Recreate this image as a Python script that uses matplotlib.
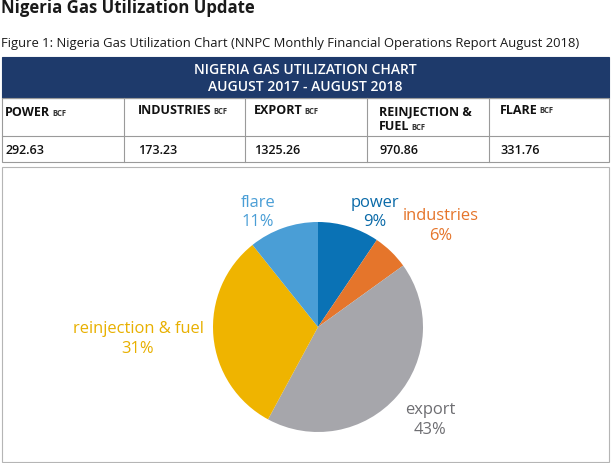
import matplotlib
matplotlib.use("Agg")
import matplotlib.pyplot as plt
from matplotlib.patches import Rectangle

plt.rcParams['font.family'] = ['Open Sans', 'DejaVu Sans']

# Data
categories = ["power", "industries", "export", "reinjection & fuel", "flare"]
header_labels = ["POWER", "INDUSTRIES", "EXPORT", "REINJECTION &\nFUEL", "FLARE"]
values = [292.63, 173.23, 1325.26, 970.86, 331.76]
value_labels = ["292.63", "173.23", "1325.26", "970.86", "331.76"]
colors = ["#0A72B5", "#E5752B", "#A6A6AB", "#EFB400", "#4A9ED6"]
text_colors = ["#0A6AA8", "#E5752B", "#6E6E72", "#E8B000", "#4A9ED6"]

W, H = 611, 463
fig = plt.figure(figsize=(W / 100, H / 100), dpi=100)
fig.patch.set_facecolor("white")

def fx(x):
    return x / W

def fy(y):
    return 1 - y / H

def rect(x0, y0, x1, y1, **kw):
    fig.add_artist(Rectangle((fx(x0), fy(y1)), fx(x1) - fx(x0), fy(y0) - fy(y1),
                             transform=fig.transFigure, **kw))

# Titles
fig.text(fx(1), fy(8), "Nigeria Gas Utilization Update", fontsize=12.1, fontweight="bold",
         color="#1a1a1a", ha="left", va="center")
fig.text(fx(1), fy(43), "Figure 1: Nigeria Gas Utilization Chart (NNPC Monthly Financial Operations Report August 2018)",
         fontsize=9.4, color="#1a1a1a", ha="left", va="center")

# Table header
rect(2, 57, 609, 98, facecolor="#1E3A6B", edgecolor="#1E3A6B", lw=0.8)
fig.text(fx(305), fy(70), "NIGERIA GAS UTILIZATION CHART", fontsize=10.0, color="white",
         ha="center", va="center", fontweight="semibold")
fig.text(fx(305), fy(87), "AUGUST 2017 - AUGUST 2018", fontsize=10.0, color="white",
         ha="center", va="center", fontweight="semibold")

line_x = [124, 245, 367, 489]
text_x = [5, 138, 254, 379, 500]
grid_c = "#9a9a9a"
rect(2, 98, 609, 162, facecolor="none", edgecolor=grid_c, lw=0.8)
fig.add_artist(plt.Line2D([fx(2), fx(609)], [fy(136), fy(136)], transform=fig.transFigure,
                          color=grid_c, lw=0.8))
for x in line_x:
    fig.add_artist(plt.Line2D([fx(x), fx(x)], [fy(98), fy(162)], transform=fig.transFigure,
                              color=grid_c, lw=0.8))

header_y = [113, 111, 111, 112, 110]
fig.canvas.draw()
for i, lab in enumerate(header_labels):
    lines = lab.split("\n")
    t = None
    for j, ln in enumerate(lines):
        t = fig.text(fx(text_x[i]), fy(header_y[i] + j * 15), ln, fontsize=9.0, fontweight="bold",
                     color="#111111", ha="left", va="center")
    fig.canvas.draw()
    bb = t.get_window_extent()
    fig.text((bb.x1 + 2) / W, (bb.y0 + 2) / H, "BCF", fontsize=5.5, fontweight="bold",
             color="#333333", ha="left", va="bottom")

for i, v in enumerate(value_labels):
    fig.text(fx(text_x[i]), fy(150), v, fontsize=9.0, fontweight="semibold",
             color="#111111", ha="left", va="center")

# Pie box
rect(2, 167, 609, 462, facecolor="none", edgecolor="#b5b5b5", lw=0.8)

# Pie
ax = fig.add_axes([fx(213), fy(432), fx(423) - fx(213), fy(222) - fy(432)])
ax.pie(values, colors=colors, startangle=90, counterclock=False,
       wedgeprops=dict(linewidth=0), radius=1.0)
ax.set_xlim(-1, 1)
ax.set_ylim(-1, 1)
ax.set_aspect("equal")
ax.axis("off")

total = sum(values)
label_pos = [(375, 203, 222), (441, 216, 236), (430, 410, 430), (138, 329, 349), (258, 203, 222)]
for i, cat in enumerate(categories):
    pct = round(values[i] / total * 100)
    x, y1, y2 = label_pos[i]
    fig.text(fx(x), fy(y1), cat, fontsize=11.9, color=text_colors[i], ha="center", va="center")
    fig.text(fx(x), fy(y2), f"{pct}%", fontsize=11.9, color=text_colors[i], ha="center", va="center")

fig.savefig("out.png", dpi=100)
